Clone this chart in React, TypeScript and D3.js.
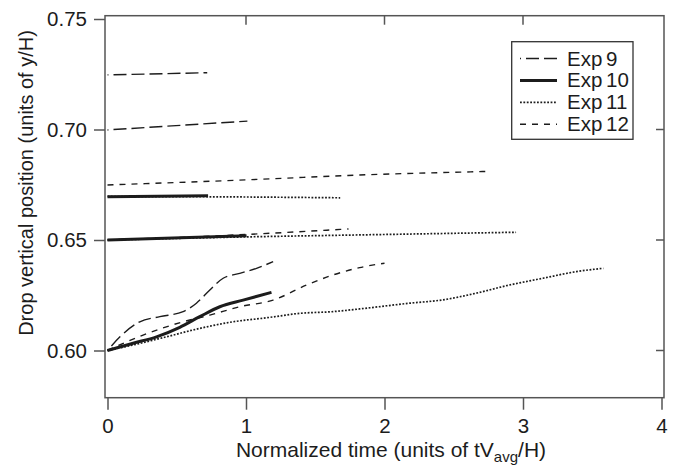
import React, { useRef, useEffect } from "react";
import * as d3 from "d3";

// tick values
const xTicks = [0, 1, 2, 3, 4];
const yTicks = [0.6, 0.65, 0.7, 0.75];
const expNames = ["Exp 9", "Exp 10", "Exp 11", "Exp 12"];

// [normalized time, drop vertical position]
const exp9Top = [[0, 0.7247], [0.72, 0.7257]];
const exp9Mid = [[0, 0.6998], [1.01, 0.7038]];
const exp9Low = [
  [0, 0.6], [0.09, 0.6062], [0.233, 0.613], [0.378, 0.6153], [0.546, 0.6176],
  [0.642, 0.6214], [0.739, 0.6274], [0.835, 0.6327], [0.955, 0.6349],
  [1.076, 0.6372], [1.196, 0.6402],
];

const exp10Top = [[0, 0.6696], [0.726, 0.67]];
const exp10Mid = [[0, 0.65], [1.004, 0.6519]];
const exp10Low = [
  [0, 0.6], [0.185, 0.6033], [0.354, 0.6062], [0.522, 0.6105], [0.666, 0.6153],
  [0.811, 0.6198], [0.979, 0.6228], [1.184, 0.6263],
];

const exp11Top = [[0, 0.6697], [0.9, 0.6695], [1.68, 0.6691]];
const exp11Mid = [[0, 0.65], [1.0, 0.6514], [1.82, 0.6523], [2.95, 0.6535]];
const exp11Low = [
  [0, 0.6], [0.185, 0.6025], [0.426, 0.6062], [0.666, 0.61], [0.907, 0.613],
  [1.148, 0.6148], [1.388, 0.6168], [1.629, 0.6176], [1.82, 0.6188],
  [2.18, 0.6214], [2.42, 0.6229], [2.66, 0.6259], [2.9, 0.6296],
  [3.145, 0.6327], [3.386, 0.6357], [3.58, 0.6372],
];

const exp12Top = [[0, 0.6749], [1.0, 0.6772], [1.82, 0.6794], [2.73, 0.681]];
const exp12Mid = [[0, 0.65], [1.0, 0.6525], [1.74, 0.655]];
const exp12Low = [
  [0, 0.6], [0.257, 0.607], [0.546, 0.613], [0.739, 0.616], [0.955, 0.6198],
  [1.196, 0.6228], [1.437, 0.6296], [1.629, 0.6342], [1.82, 0.6375], [2.0, 0.6395],
];

const expSeries = [
  [exp9Top, exp9Mid, exp9Low],
  [exp10Top, exp10Mid, exp10Low],
  [exp11Top, exp11Mid, exp11Low],
  [exp12Top, exp12Mid, exp12Low],
];

// line styles for each experiment
const lineStyles = [
  { width: 1.4, dash: "13,5", offset: 12 },
  { width: 3, dash: null, offset: 0 },
  { width: 1.7, dash: "1.8,1.6", offset: 0 },
  { width: 1.4, dash: "6,6", offset: 0 },
];

const W = 678;
const H = 468;
const ink = "#1c1c1c";
const font = "'Liberation Sans', Arial, Helvetica, sans-serif";

function App() {
  const svgRef = useRef<SVGSVGElement | null>(null);

  useEffect(() => {
    const svg = d3.select(svgRef.current);
    svg.selectAll("*").remove();

    // frame edges
    const left = 105, right = 664, top = 15.7, bottom = 397.7;

    const x = d3.scaleLinear().domain([0, 4]).range([107.5, 661.5]);
    const y = d3.scaleLinear().domain([0.6, 0.75]).range([350.5, 19]);

    // plot frame
    svg.append("rect")
      .attr("x", left).attr("y", top)
      .attr("width", right - left).attr("height", bottom - top)
      .attr("fill", "none").attr("stroke", "#555").attr("stroke-width", 1.5);

    // left axis
    const yAxis = d3.axisLeft(y).tickValues(yTicks)
      .tickFormat(d3.format(".2f")).tickSize(11).tickPadding(7).tickSizeOuter(0);
    const gy = svg.append("g").attr("transform", `translate(${left},0)`).call(yAxis);
    gy.select(".domain").remove();
    gy.selectAll("line").attr("stroke", "#555").attr("stroke-width", 1.5);
    gy.selectAll("text").attr("font-family", font).attr("font-size", 20.5).attr("fill", ink);

    // bottom axis
    const xAxis = d3.axisBottom(x).tickValues(xTicks)
      .tickFormat(d3.format("d")).tickSize(12).tickPadding(9).tickSizeOuter(0);
    const gx = svg.append("g").attr("transform", `translate(0,${bottom})`).call(xAxis);
    gx.select(".domain").remove();
    gx.selectAll("line").attr("stroke", "#555").attr("stroke-width", 1.5);
    gx.selectAll("text").attr("font-family", font).attr("font-size", 20.5).attr("fill", ink);

    // mirrored inner ticks on top and right
    svg.append("g").selectAll("line").data(xTicks.slice(1, 4)).join("line")
      .attr("x1", d => x(d)).attr("x2", d => x(d))
      .attr("y1", top).attr("y2", top + 9)
      .attr("stroke", "#555").attr("stroke-width", 1.5);
    svg.append("g").selectAll("line").data(yTicks.slice(0, 3)).join("line")
      .attr("x1", right).attr("x2", right - 8)
      .attr("y1", d => y(d)).attr("y2", d => y(d))
      .attr("stroke", "#555").attr("stroke-width", 1.5);

    // data lines
    const line = d3.line<number[]>()
      .x(d => x(d[0])).y(d => y(d[1]))
      .curve(d3.curveMonotoneX);

    expSeries.forEach((segs, i) => {
      const st = lineStyles[i];
      segs.forEach(seg => {
        svg.append("path")
          .attr("d", line(seg))
          .attr("fill", "none")
          .attr("stroke", ink)
          .attr("stroke-width", st.width)
          .attr("stroke-dasharray", st.dash)
          .attr("stroke-dashoffset", st.offset);
      });
    });

    // legend
    const lg = svg.append("g");
    lg.append("rect")
      .attr("x", 511.7).attr("y", 41.7).attr("width", 121.3).attr("height", 97.6)
      .attr("fill", "white").attr("stroke", "#333").attr("stroke-width", 1.3);
    expNames.forEach((name, i) => {
      const st = lineStyles[i];
      const ly = 58.5 + i * 21.9;
      lg.append("line")
        .attr("x1", 520).attr("x2", 557).attr("y1", ly).attr("y2", ly)
        .attr("stroke", ink).attr("stroke-width", st.width)
        .attr("stroke-dasharray", st.dash).attr("stroke-dashoffset", st.offset);
      lg.append("text")
        .attr("x", 567).attr("y", ly + 7)
        .attr("font-family", font).attr("font-size", 20.5).attr("fill", ink)
        .attr("word-spacing", "-2px")
        .text(name);
    });

    // axis titles
    svg.append("text")
      .attr("transform", `translate(33,183) rotate(-90)`)
      .attr("text-anchor", "middle")
      .attr("font-family", font).attr("font-size", 20).attr("fill", ink)
      .text("Drop vertical position (units of y/H)");

    const xt = svg.append("text")
      .attr("x", 391).attr("y", 456.6)
      .attr("text-anchor", "middle")
      .attr("font-family", font).attr("font-size", 21).attr("fill", ink);
    xt.append("tspan").text("Normalized time (units of tV");
    xt.append("tspan").attr("dy", 5).attr("font-size", 15).text("avg");
    xt.append("tspan").attr("dy", -5).text("/H)");
  }, []);

  return (
    <svg
      ref={svgRef}
      width={W}
      height={H}
      style={{ position: "absolute", left: 0, top: 0, background: "white" }}
    />
  );
}

export default App;
